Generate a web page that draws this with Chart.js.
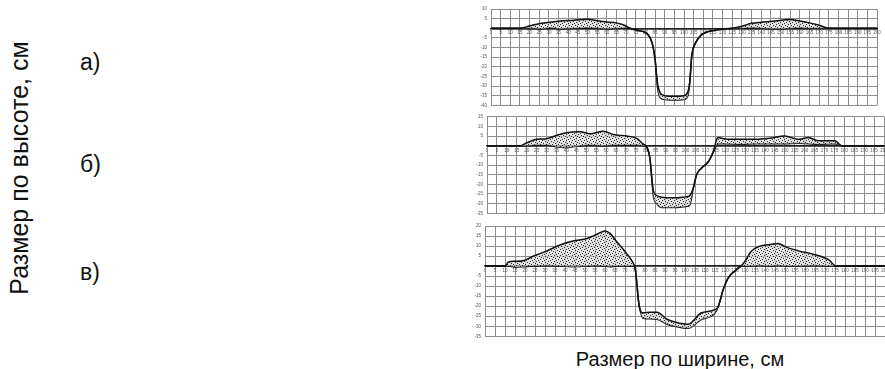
<!DOCTYPE html>
<html>
<head>
<meta charset="utf-8">
<script src="https://cdn.jsdelivr.net/npm/chart.js@4.4.1/dist/chart.umd.min.js"></script>
<style>
  html, body { margin: 0; padding: 0; background: #fff; overflow: hidden; }
  body { width: 885px; height: 369px; position: relative; font-family: "Liberation Sans", Arial, sans-serif; }
  .box { position: absolute; }
  .lbl { position: absolute; color: #111; white-space: nowrap; line-height: 1; }
</style>
</head>
<body>
<div class="lbl" style="left:19px;top:168px;font-size:25px;transform:translate(-50%,-50%) rotate(-90deg);">Размер по высоте, см</div>
<div class="lbl" style="left:80px;top:51px;font-size:23px;">а)</div>
<div class="lbl" style="left:80px;top:153px;font-size:23px;">б)</div>
<div class="lbl" style="left:80px;top:261px;font-size:23px;">в)</div>
<div class="lbl" style="left:680px;top:349px;font-size:20px;transform:translateX(-50%);">Размер по ширине, см</div>

<div class="box" style="left:470px;top:0px;width:415px;height:112px;"><canvas id="chartA"></canvas></div>
<div class="box" style="left:470px;top:110px;width:420px;height:110px;"><canvas id="chartB"></canvas></div>
<div class="box" style="left:470px;top:219px;width:421px;height:124px;"><canvas id="chartC"></canvas></div>

<script>
// а) profile
const aX     = [0, 10, 15, 20, 26, 31, 36, 43, 50, 56, 60, 65, 70, 72, 75.5, 80.5, 83.5, 85, 86.2, 87.6, 90, 95, 100, 102, 103, 104, 106, 109, 116, 125, 130, 135, 141, 147, 155, 160, 165, 170, 175, 180, 190, 200];
const aUpper = [0, 0, 0, 1.2, 2.6, 3.2, 3.8, 4.2, 4.7, 3.8, 3.3, 2.8, 1.2, 0, -1, -2.5, -7.7, -16, -28, -33.4, -35, -35.3, -35, -33, -28, -14.6, -7.6, -3.4, -1.1, 0, 1, 2.6, 3.2, 3.8, 4.5, 3.8, 2.8, 1.6, 0, 0, 0, 0];
const aLower = [0, 0, 0, 0, -0.3, 0.3, -0.3, 0, 0.3, 0, -0.3, 0, 0.2, 0, -1, -2.5, -7.7, -16, -30, -36, -37, -37.3, -37, -35, -28, -14.6, -7.6, -3.4, -1.1, 0, 0, 0.3, 0, -0.3, 0, 0.3, 0, 0, 0, 0, 0, 0];

// б) profile
const bX     = [0, 10, 16.6, 20, 25, 30, 35, 40, 47, 52, 58.6, 63.6, 70.4, 75.4, 78.7, 80.5, 82.1, 83, 83.8, 85.5, 88, 95, 100, 102, 104, 105.6, 108, 111.5, 114, 115.7, 116.5, 120, 128, 135, 142, 150, 156.8, 162, 167, 175.3, 178.7, 185, 200];
const bUpper = [0, 0, 0, 1.5, 3.3, 3.6, 5.3, 6.7, 7.2, 6.2, 7.5, 5.8, 5, 3.8, 0.8, -0.8, -6.7, -16.7, -23.3, -25.8, -26.7, -27, -26.5, -26, -21.7, -15, -11.7, -8.3, -3.3, 3.3, 4.2, 3.5, 3.3, 3.3, 3.8, 5, 3.3, 4.2, 2.5, 2.5, 0, 0, 0];
const bLower = [0, 0, 0, 0, 0.3, 0.3, -0.5, -1, 0, 0.3, 0, 0.3, 0.3, 0.3, 0, -0.8, -6.7, -16.7, -26, -30, -32, -32, -31.5, -31, -21.7, -15, -11.7, -8.3, -3.3, 0.5, 1, 1, 0.8, 1, 1, 1, 1.2, 1, 0.8, 1, 0, 0, 0];

// в) profile
const cX     = [0, 5, 10, 11.7, 15, 19, 24, 31, 37.5, 44, 51, 56, 60, 62.5, 66, 70, 74, 75, 75.8, 76.7, 77.5, 79, 82.5, 86, 91, 97.5, 101.5, 108, 115, 116.7, 119, 121.7, 125, 128, 130, 133, 136.7, 143.3, 146.7, 150, 156.7, 165, 171.7, 175.8, 180, 190, 200];
const cUpper = [0, 0, 0, 2.1, 2.4, 2.7, 4.9, 7.6, 10.5, 12.5, 13.8, 15.9, 17.5, 16.3, 12, 7.3, 1.7, -0.8, -7.3, -17, -21.7, -23.3, -23, -23, -26.5, -28.5, -29, -23.4, -21.7, -20, -12, -5.7, -2.4, 0, 2.4, 7.3, 9.7, 10.9, 11.3, 9.7, 7.6, 5.7, 3.2, 0, 0, 0, 0];
const cLower = [0, 0, 0, 0, -0.5, -0.3, 0, 0.3, 0, -0.3, 0, 0.3, 0, -0.3, 0, 0, 0, -0.8, -7.3, -17, -21.7, -26, -26.3, -26.5, -29, -30.5, -31, -26.7, -23.4, -20, -12, -5.7, -2.4, 0, 0, 0, 0.3, 0, 0.3, 0, 0, 0.3, 0, 0, 0, 0, 0];

// stippled fill like the scanned original
function stipple() {
  const c = document.createElement("canvas");
  c.width = 6; c.height = 6;
  const g = c.getContext("2d");
  g.fillStyle = "rgba(215,215,215,0.7)";
  g.fillRect(0, 0, 6, 6);
  g.fillStyle = "rgba(20,20,20,0.85)";
  [[0,0],[3,1],[1,3],[4,4],[5,2],[2,5]].forEach(([x, y]) => g.fillRect(x, y, 1, 1));
  return g.createPattern(c, "repeat");
}

function makeChart(id, xs, upper, lower, yMin, yMax, axisW, pad) {
  const pts = (arr) => xs.map((x, i) => ({ x, y: arr[i] }));
  const line = { borderColor: "#111", borderWidth: 1.5, pointRadius: 0, cubicInterpolationMode: "monotone" };
  return new Chart(document.getElementById(id), {
    type: "line",
    data: {
      datasets: [
        { ...line, data: pts(upper), fill: "+1", backgroundColor: stipple() },
        { ...line, data: pts(lower), fill: false },
      ],
    },
    options: {
      responsive: true,
      maintainAspectRatio: false,
      animation: false,
      layout: { padding: pad },
      plugins: { legend: { display: false }, tooltip: { enabled: false } },
      scales: {
        x: {
          type: "linear",
          min: 0, max: 200,
          position: { y: 0 },
          grid: { color: "#8c8c8c", lineWidth: 1, drawTicks: false },
          border: { color: "#222", width: 1.5 },
          ticks: { stepSize: 5, padding: 2, maxRotation: 0, autoSkip: false, color: "#555", font: { size: 4.5 } },
        },
        y: {
          min: yMin, max: yMax,
          afterFit: (s) => { s.width = axisW; },
          grid: {
            drawTicks: false,
            color: (c) => (c.tick && c.tick.value === 0 ? "#222" : "#8c8c8c"),
            lineWidth: (c) => (c.tick && c.tick.value === 0 ? 1.5 : 1),
          },
          border: { color: "#8c8c8c" },
          ticks: {
            stepSize: 5, padding: 4, color: "#555", font: { size: 4.5 },
            callback: (v) => (v === 0 ? "" : v),
          },
        },
      },
    },
  });
}

makeChart("chartA", aX, aUpper, aLower, -40, 10, 21, { top: 9, bottom: 6, right: 8, left: 0 });
makeChart("chartB", bX, bUpper, bLower, -35, 15, 17, { top: 5, bottom: 5, right: 6, left: 0 });
makeChart("chartC", cX, cUpper, cLower, -35, 20, 15, { top: 7, bottom: 4, right: 6, left: 0 });
</script>
</body>
</html>
